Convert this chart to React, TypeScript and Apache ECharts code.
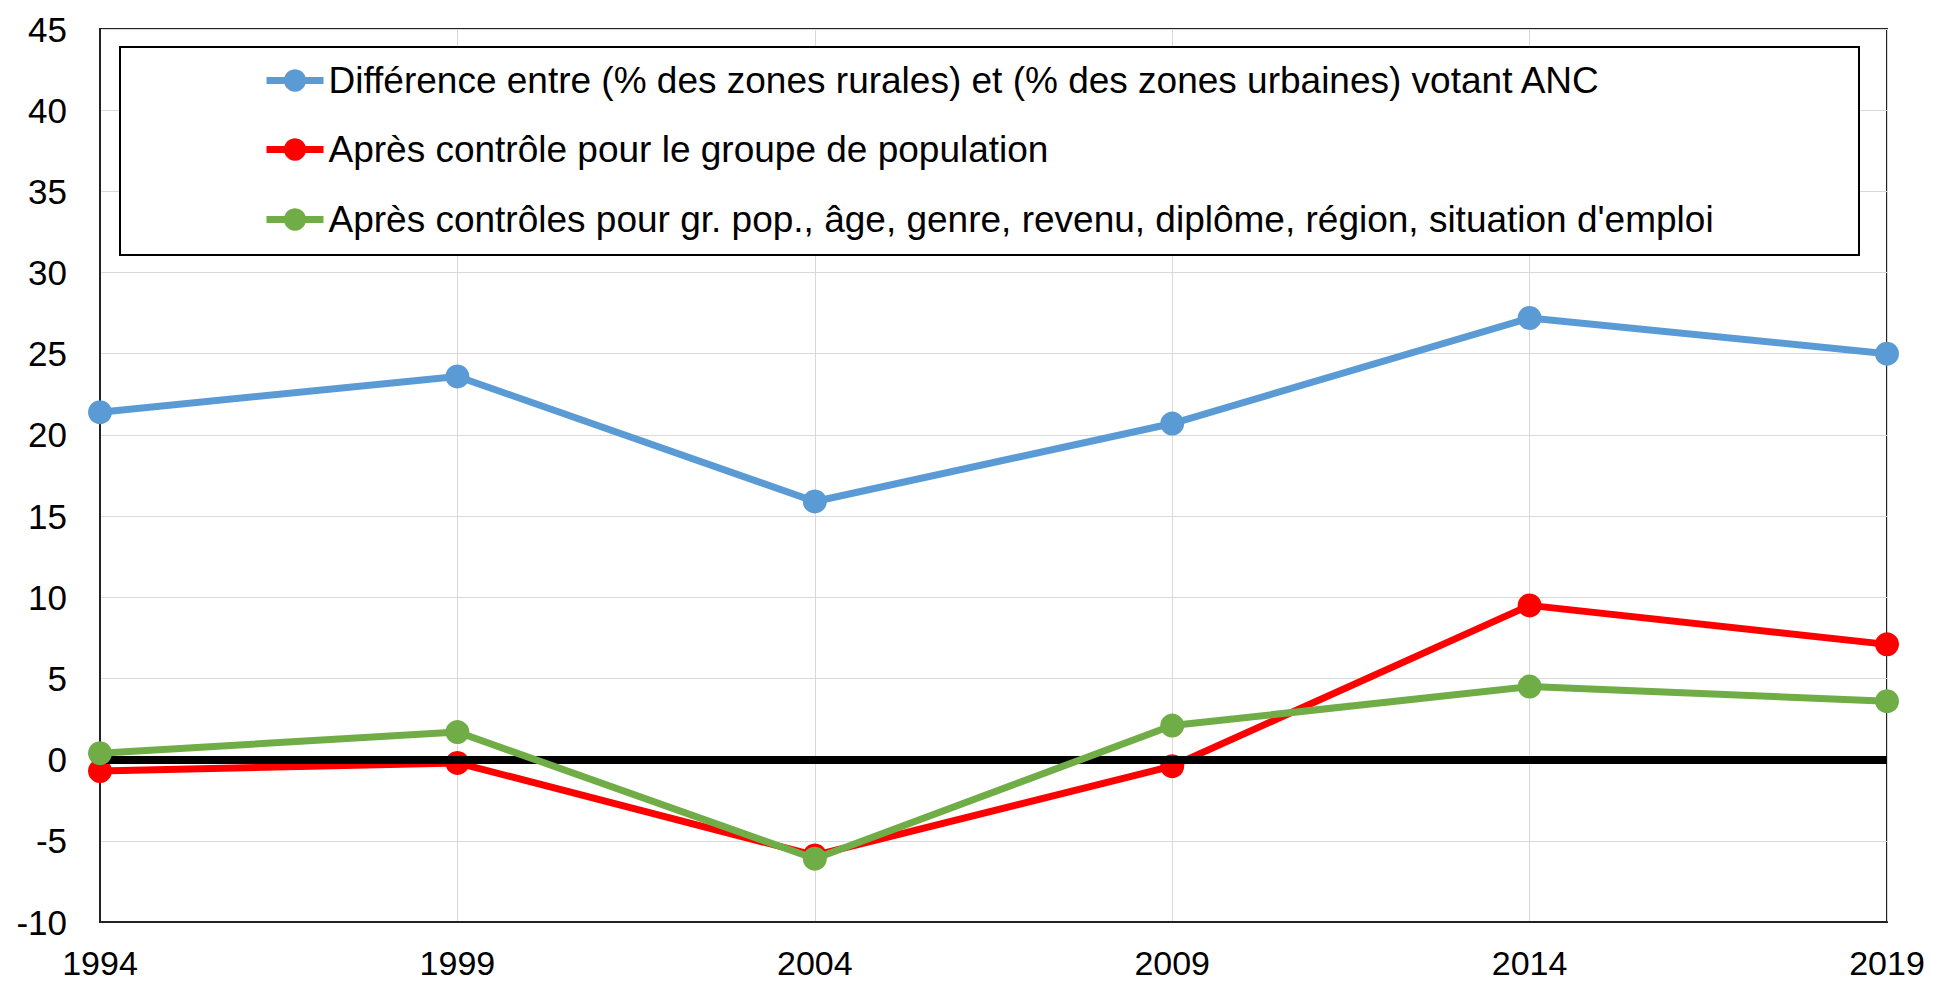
import React, { useEffect, useRef } from "react";
import * as echarts from "echarts";

const years = ["1994", "1999", "2004", "2009", "2014", "2019"];
const seriesNames = [
  "Différence entre (% des zones rurales) et (% des zones urbaines) votant ANC",
  "Après contrôle pour le groupe de population",
  "Après contrôles pour gr. pop., âge, genre, revenu, diplôme, région, situation d'emploi",
];
const diffValues = [21.4, 23.6, 15.9, 20.7, 27.2, 25.0];
const popValues = [-0.7, -0.2, -5.9, -0.4, 9.5, 7.1];
const allControlValues = [0.4, 1.7, -6.1, 2.1, 4.5, 3.6];
const seriesColors = ["#5b9bd5", "#ff0000", "#70ad47"];

const FONT = "'Liberation Sans', Arial, sans-serif";

export default function App() {
  const ref = useRef<HTMLDivElement>(null);
  useEffect(() => {
    if (!ref.current) return;
    const chart = echarts.init(ref.current, null, { renderer: "svg" });
    const valuesList = [diffValues, popValues, allControlValues];
    const rowCenters = [81, 150, 220];
    const series: any[] = [
      {
        name: "zero",
        type: "line",
        data: [],
        silent: true,
        z: 1,
        markLine: {
          silent: true,
          symbol: "none",
          label: { show: false },
          lineStyle: { color: "#000", width: 8, type: "solid" },
          data: [{ yAxis: 0 }],
        },
      },
      ...valuesList.map((vals, i) => ({
        name: seriesNames[i],
        type: "line",
        data: vals,
        symbol: "circle",
        symbolSize: 24,
        z: 3 + i,
        lineStyle: { color: seriesColors[i], width: 7 },
        itemStyle: { color: seriesColors[i] },
      })),
    ];
    chart.setOption({
      animation: false,
      backgroundColor: "#fff",
      textStyle: { fontFamily: FONT },
      grid: {
        left: 100,
        right: 46,
        top: 29,
        bottom: 62,
        show: true,
        borderColor: "#222",
        borderWidth: 2,
        backgroundColor: "transparent",
      },
      legend: seriesNames.map((n, i) => ({
        data: [n],
        left: 263,
        top: rowCenters[i] - 19,
        padding: 0,
        itemWidth: 57,
        itemHeight: 28,
        itemGap: 0,
        z: 10,
        lineStyle: { width: 7 },
        textStyle: { fontSize: 37, color: "#000", fontFamily: FONT },
        selectedMode: false,
      })),
      graphic: [
        {
          type: "rect",
          z: 5,
          shape: { x: 120, y: 47, width: 1739, height: 208 },
          style: { fill: "#fff", stroke: "#000", lineWidth: 2 },
        },
      ],
      xAxis: {
        type: "category",
        data: years,
        boundaryGap: false,
        axisLine: { onZero: false, lineStyle: { color: "#222", width: 2 } },
        axisTick: { show: false },
        axisLabel: {
          fontSize: 34,
          lineHeight: 34,
          color: "#000",
          margin: 24,
          fontFamily: FONT,
        },
        splitLine: { show: true, lineStyle: { color: "#d9d9d9", width: 1 } },
      },
      yAxis: {
        type: "value",
        min: -10,
        max: 45,
        interval: 5,
        axisLine: { show: true, lineStyle: { color: "#222", width: 2 } },
        axisTick: { show: false },
        axisLabel: { fontSize: 35, color: "#000", margin: 33, fontFamily: FONT },
        splitLine: { show: true, lineStyle: { color: "#d9d9d9", width: 1 } },
      },
      series,
    });
    return () => chart.dispose();
  }, []);
  return (
    <div
      ref={ref}
      style={{ position: "fixed", left: 0, top: 0, width: 1933, height: 984, background: "#fff" }}
    />
  );
}
